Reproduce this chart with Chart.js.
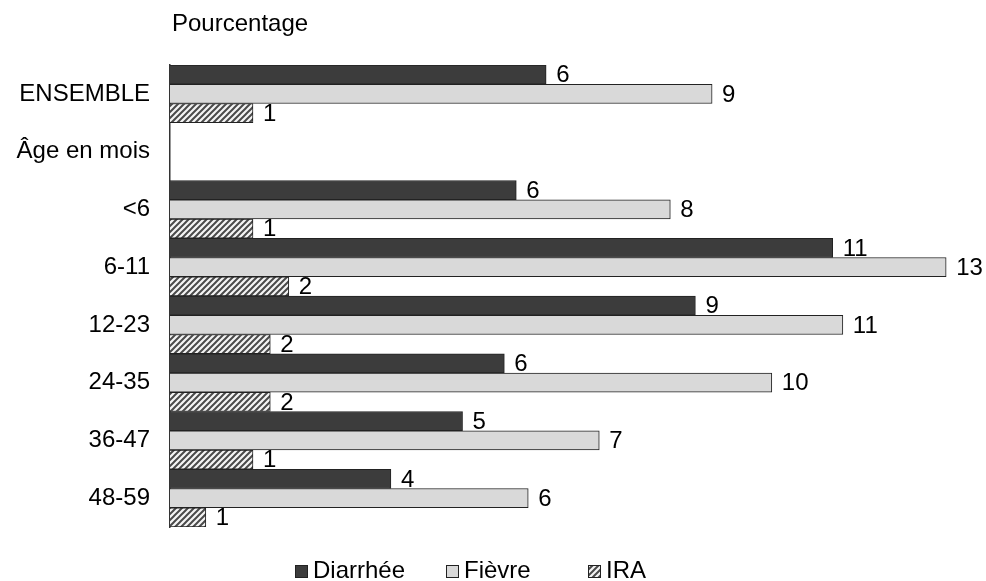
<!DOCTYPE html>
<html>
<head>
<meta charset="utf-8">
<script src="https://cdn.jsdelivr.net/npm/chart.js@4.4.1/dist/chart.umd.min.js"></script>
<style>
  html, body { margin: 0; padding: 0; background: #fff; }
  #wrap { width: 986px; height: 581px; position: relative; }
</style>
</head>
<body>
<div id="wrap"><canvas id="chart1"></canvas></div>
<script>
// data (bar lengths, labels are the rounded values)
var categories = ['ENSEMBLE', 'Âge en mois', '<6', '6-11', '12-23', '24-35', '36-47', '48-59'];
var diarrhee = [6.3, null, 5.8, 11.1, 8.8, 5.6, 4.9, 3.7];
var fievre   = [9.08, null, 8.38, 13.0, 11.27, 10.08, 7.19, 6.0];
var ira      = [1.39, null, 1.39, 1.99, 1.68, 1.68, 1.39, 0.6];
var seriesNames = ['Diarrhée', 'Fièvre', 'IRA'];
var axisTitle = 'Pourcentage';

var FONT = "'Liberation Sans', Arial, sans-serif";

// hatch pattern for IRA
function makeHatch() {
    var c = document.createElement('canvas');
    c.width = 6; c.height = 6;
    var g = c.getContext('2d');
    g.fillStyle = '#f4f4f4';
    g.fillRect(0, 0, 6, 6);
    g.strokeStyle = '#4a4a4a';
    g.lineWidth = 2;
    g.beginPath();
    g.moveTo(-1, 7); g.lineTo(7, -1);
    g.moveTo(-4, 4); g.lineTo(4, -4);
    g.moveTo(2, 10); g.lineTo(10, 2);
    g.stroke();
    return g.createPattern(c, 'repeat');
}

var valueLabels = {
    id: 'valueLabels',
    afterDatasetsDraw: function(chart) {
        var ctx = chart.ctx;
        ctx.save();
        ctx.font = '24px ' + FONT;
        ctx.fillStyle = '#000';
        ctx.textAlign = 'left';
        ctx.textBaseline = 'middle';
        chart.data.datasets.forEach(function(ds, i) {
            chart.getDatasetMeta(i).data.forEach(function(bar, j) {
                var v = ds.data[j];
                if (v === null) return;
                ctx.fillText(Math.round(v), bar.x + 10, bar.y + 1);
            });
        });
        ctx.restore();
    }
};

var extras = {
    id: 'extras',
    afterDraw: function(chart) {
        var ctx = chart.ctx;
        ctx.save();
        ctx.font = '24px ' + FONT;
        ctx.fillStyle = '#000';
        ctx.textBaseline = 'alphabetic';
        ctx.fillText(axisTitle, chart.chartArea.left + 2, 31);

        // legend
        var xs = [295, 446, 588];
        chart.data.datasets.forEach(function(ds, i) {
            ctx.fillStyle = ds.backgroundColor;
            ctx.fillRect(xs[i], 565, 13, 13);
            ctx.strokeStyle = '#222';
            ctx.lineWidth = 1;
            ctx.strokeRect(xs[i] + 0.5, 565.5, 12, 12);
            ctx.fillStyle = '#000';
            ctx.fillText(ds.label, xs[i] + 18, 578);
        });
        ctx.restore();
    }
};

var ctx = document.getElementById('chart1').getContext('2d');
var hatch = makeHatch();
var myChart = new Chart(ctx, {
    type: 'bar',
    data: {
        labels: categories,
        datasets: [{
            label: seriesNames[0],
            data: diarrhee,
            backgroundColor: '#3c3c3c',
            borderColor: '#222',
            borderWidth: 1
        },
        {
            label: seriesNames[1],
            data: fievre,
            backgroundColor: '#d9d9d9',
            borderColor: '#222',
            borderWidth: 1
        },
        {
            label: seriesNames[2],
            data: ira,
            backgroundColor: hatch,
            borderColor: '#222',
            borderWidth: 1
        }]
    },
    options: {
        indexAxis: 'y',
        responsive: true,
        maintainAspectRatio: false,
        animation: false,
        categoryPercentage: 1.0,
        barPercentage: 1.0,
        layout: {
            padding: { top: 65, bottom: 54, left: 0, right: 10 }
        },
        plugins: {
            legend: { display: false },
            tooltip: { enabled: false }
        },
        scales: {
            x: {
                display: false,
                min: 0,
                max: 13.5
            },
            y: {
                afterFit: function(scale) { scale.width = 170; },
                grid: { display: false },
                border: { display: true, color: '#333', width: 1.5 },
                ticks: {
                    color: '#000',
                    padding: 12,
                    font: { family: FONT, size: 24 }
                }
            }
        }
    },
    plugins: [valueLabels, extras]
});
</script>
</body>
</html>
